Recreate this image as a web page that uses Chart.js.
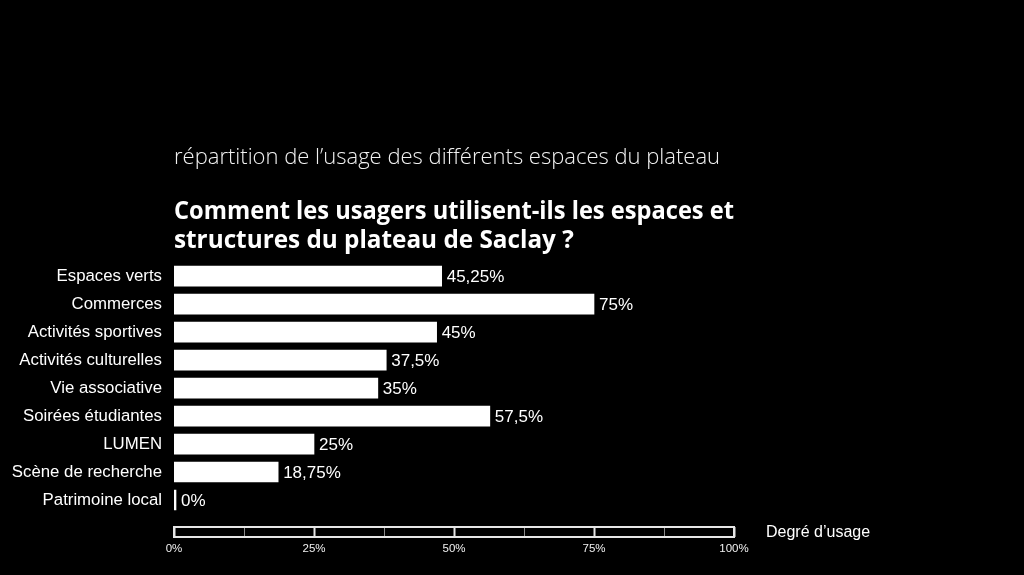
<!DOCTYPE html>
<html><head><meta charset="utf-8">
<script src="https://cdn.jsdelivr.net/npm/chart.js@4"></script>
<style>html,body{margin:0;padding:0;background:#000;}#wrap{width:1024px;height:575px;position:relative;background:#000}</style>
</head><body><div id="wrap"><canvas id="c" width="1024" height="575"></canvas></div>
<script>
const categories = ['Espaces verts','Commerces','Activités sportives','Activités culturelles','Vie associative','Soirées étudiantes','LUMEN','Scène de recherche','Patrimoine local'];
const values = [47.8, 75, 46.9, 37.9, 36.4, 56.4, 25, 18.6, 0];
const valueLabels = ['45,25%','75%','45%','37,5%','35%','57,5%','25%','18,75%','0%'];
const xTickLabels = ['0%','25%','50%','75%','100%'];
const subtitleText = 'répartition de l’usage des différents espaces du plateau';
const titleLines = ['Comment les usagers utilisent-ils les espaces et','structures du plateau de Saclay ?'];
const axisTitle = 'Degré d’usage';

const SANS = '"Liberation Sans", Arial, sans-serif';

const valueLabelPlugin = {
  id: 'valueLabels',
  afterDatasetsDraw(chart) {
    const ctx = chart.ctx;
    const meta = chart.getDatasetMeta(0);
    ctx.save();
    ctx.fillStyle = '#fff';
    ctx.font = '17px ' + SANS;
    ctx.textBaseline = 'middle';
    ctx.textAlign = 'left';
    meta.data.forEach((bar, i) => {
      ctx.fillText(valueLabels[i], bar.x + 5, bar.y + 1);
    });
    ctx.restore();
  }
};

const axisBoxPlugin = {
  id: 'axisBox',
  afterDraw(chart) {
    const ctx = chart.ctx;
    const xs = chart.scales.x;
    const ca = chart.chartArea;
    const top = ca.bottom + 13, h = 10;
    const x0 = xs.getPixelForValue(0), x1 = xs.getPixelForValue(100);
    ctx.save();
    xs.ticks.forEach(t => {
      const px = Math.round(xs.getPixelForValue(t.value)) + 0.5;
      const major = t.value % 25 === 0;
      ctx.strokeStyle = major ? '#e6e6e6' : '#8a8a8a';
      ctx.lineWidth = major ? 2 : 1;
      ctx.beginPath(); ctx.moveTo(px, top); ctx.lineTo(px, top + h); ctx.stroke();
    });
    ctx.strokeStyle = '#e6e6e6';
    ctx.lineWidth = 2;
    ctx.strokeRect(x0, top, x1 - x0, h);
    ctx.fillStyle = '#fff';
    ctx.font = '16px ' + SANS;
    ctx.textBaseline = 'middle';
    ctx.textAlign = 'left';
    ctx.fillText(axisTitle, x1 + 32, top + h / 2 + 0.5);
    ctx.restore();
  }
};

new Chart(document.getElementById('c'), {
  type: 'bar',
  data: {
    labels: categories,
    datasets: [{
      data: values,
      backgroundColor: '#ffffff',
      borderWidth: 0,
      barThickness: 20,
      minBarLength: 2
    }]
  },
  options: {
    indexAxis: 'y',
    responsive: false,
    animation: false,
    events: [],
    layout: { padding: { top: 145, right: 290, bottom: 0, left: 0 } },
    plugins: {
      legend: { display: false },
      tooltip: { enabled: false },
      title: {
        display: true, text: subtitleText, align: 'start', fullSize: false,
        color: '#f2f2f2',
        font: { family: '"Open Sans", sans-serif', size: 22, weight: 300, lineHeight: 1.2 },
        padding: { top: 0, bottom: 26.3 }
      },
      subtitle: {
        display: true, text: titleLines, align: 'start', fullSize: false,
        color: '#ffffff',
        font: { family: '"Open Sans", sans-serif', size: 24.3, weight: 'bold', lineHeight: 1.193 },
        padding: { top: 0, bottom: 6.5 }
      }
    },
    scales: {
      x: {
        type: 'linear', min: 0, max: 100, position: 'bottom',
        grid: { display: false, drawTicks: false },
        border: { display: false },
        ticks: {
          stepSize: 12.5, padding: 28, color: '#f0f0f0', maxRotation: 0, autoSkip: false,
          font: { family: SANS, size: 11.5 },
          callback: v => (v % 25 === 0 ? xTickLabels[v / 25] : '')
        },
        afterFit: s => { s.height = 61; }
      },
      y: {
        type: 'category', offset: true,
        grid: { display: false, drawTicks: false },
        border: { display: false },
        ticks: { color: '#ffffff', padding: 12, font: { family: SANS, size: 16.8 } },
        afterFit: s => { s.width = 174; }
      }
    }
  },
  plugins: [valueLabelPlugin, axisBoxPlugin]
});
</script>
</body></html>
